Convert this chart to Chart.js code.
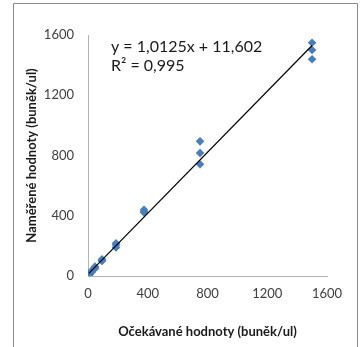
<!DOCTYPE html>
<html>
<head>
<meta charset="utf-8">
<script src="https://cdn.jsdelivr.net/npm/chart.js@4/dist/chart.umd.min.js"></script>
<style>
html,body{margin:0;padding:0;background:#fff;}
canvas{display:block;}
</style>
</head>
<body>
<canvas id="c" width="361" height="347"></canvas>
<script>
// Expected (x) and measured (y) values
const expected = [1500,1500,1500, 750,750,750, 375,375,375, 187.5,187.5,187.5, 93.75,93.75,93.75, 46.9,46.9,46.9, 23.4,23.4,23.4, 11.7,11.7,11.7, 5.9,5.9,5.9];
const measured = [1549,1500,1439, 894,817,742, 440,428,422, 217,205,190, 111,104,100, 62,55,50, 35,28,25, 18,14,12, 8,6,5];
const trendSlope = 1.0125;
const trendIntercept = 11.602;
const equationText = ['y = 1,0125x + 11,602', 'R² = 0,995'];
const xTicks = [0,400,800,1200,1600];
const yTicks = [0,400,800,1200,1600];
const xTitle = 'Očekávané hodnoty (buněk/ul)';
const yTitle = 'Naměřené hodnoty (buněk/ul)';

const points = expected.map((x,i)=>({x:x, y:measured[i]}));
const xMin = Math.min(...expected), xMax = Math.max(...expected);
const trend = [{x:xMin, y:trendSlope*xMin+trendIntercept},{x:xMax, y:trendSlope*xMax+trendIntercept}];

const framePlugin = {
  id:'frame',
  beforeDraw(chart){
    const ctx = chart.ctx;
    ctx.save();
    ctx.strokeStyle = '#8c8c8c';
    ctx.lineWidth = 1;
    ctx.beginPath();
    ctx.moveTo(13.5, 347);
    ctx.lineTo(13.5, 3.5);
    ctx.lineTo(357.5, 3.5);
    ctx.lineTo(357.5, 347);
    ctx.stroke();
    ctx.restore();
  }
};
const eqPlugin = {
  id:'eq',
  afterDraw(chart){
    const ctx = chart.ctx;
    const xs = chart.scales.x, ys = chart.scales.y;
    const px = xs.getPixelForValue(154);
    const py = ys.getPixelForValue(1520);
    ctx.save();
    ctx.font = '16px Lato';
    ctx.fillStyle = '#1a1a1a';
    ctx.textBaseline = 'middle';
    ctx.textAlign = 'left';
    ctx.fillText(equationText[0], px, py);
    ctx.fillText(equationText[1], px, py + 19);
    ctx.restore();
  }
};

const fmt = v => String(v);

new Chart(document.getElementById('c'), {
  type:'scatter',
  data:{
    datasets:[
      {type:'line', data:trend, borderColor:'#000', borderWidth:1.2, pointRadius:0, fill:false, order:0},
      {data:points, pointStyle:'rectRot', pointRadius:4.3, backgroundColor:'#4a7ebb', borderColor:'#4a7ebb', borderWidth:0, order:1}
    ]
  },
  plugins:[framePlugin, eqPlugin],
  options:{
    responsive:false,
    animation:false,
    devicePixelRatio:1,
    layout:{padding:{left:13, right:34, top:35, bottom:0}},
    plugins:{legend:{display:false}, tooltip:{enabled:false}},
    scales:{
      x:{
        type:'linear', min:0, max:1600,
        afterBuildTicks(s){ s.ticks = xTicks.map(v=>({value:v})); },
        afterFit(s){ s.height = 71; },
        grid:{display:false, drawTicks:false},
        border:{display:true, color:'#b3b3b3', width:1},
        ticks:{font:{family:'Lato', size:13}, color:'#404040', padding:10, maxRotation:0, callback:fmt},
        title:{display:true, text:xTitle, font:{family:'Lato', size:13, weight:'bold'}, color:'#1a1a1a', padding:{top:0, bottom:7}}
      },
      y:{
        type:'linear', min:0, max:1600,
        afterBuildTicks(s){ s.ticks = yTicks.map(v=>({value:v})); },
        afterFit(s){ s.width = 75; },
        grid:{display:false, drawTicks:false},
        border:{display:true, color:'#b3b3b3', width:1},
        ticks:{font:{family:'Lato', size:13}, color:'#404040', padding:14, callback:fmt},
        title:{display:true, text:yTitle, font:{family:'Lato', size:13, weight:'bold'}, color:'#1a1a1a', padding:{top:11, bottom:0}}
      }
    }
  }
});
</script>
</body>
</html>
